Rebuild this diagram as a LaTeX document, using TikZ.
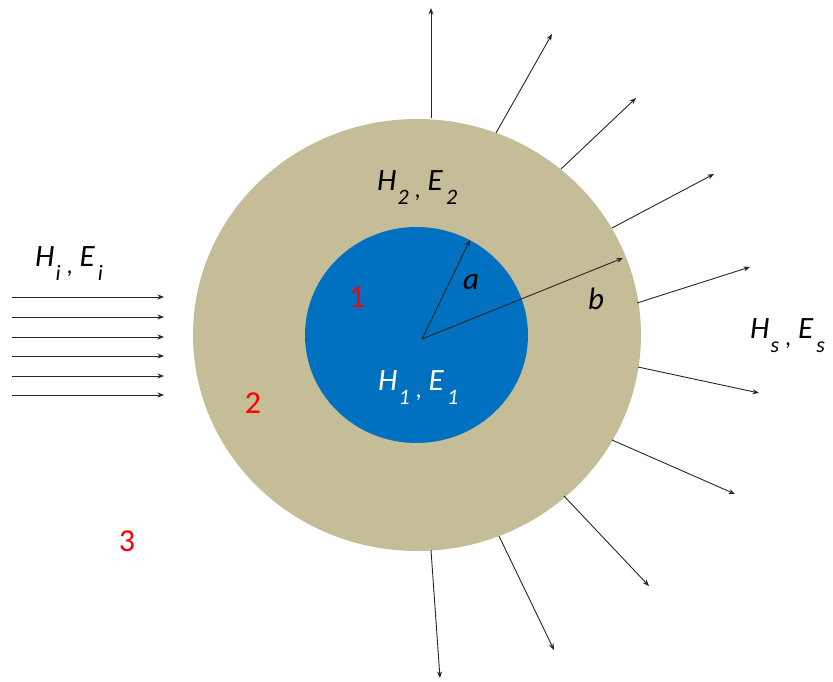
\documentclass[tikz,border=0pt]{standalone}
\usepackage{fontspec}
\setmainfont{Carlito}
\usetikzlibrary{arrows.meta}
\definecolor{tan}{HTML}{C4BD97}
\definecolor{coreblue}{HTML}{0070C0}
\newcommand\sbx[1]{\raisebox{-14pt}{\fontsize{22}{22}\selectfont\itshape #1}}
\newcommand\cmx{\raisebox{-7pt}{\fontsize{24}{24}\selectfont ,}}
\newcommand\fld[4]{\textit{#1}\kern1pt\sbx{#2}\kern6pt\cmx\kern7pt\textit{#3}\kern3pt\sbx{#4}}
\begin{document}
\begin{tikzpicture}[x=1pt,y=-1pt,
  arr/.style={draw=black!85,line width=0.9pt,-{Stealth[length=6.5pt,width=5pt]}},
  lbl/.style={inner sep=0pt,anchor=base west,font=\fontsize{31}{31}\selectfont},
  num/.style={inner sep=0pt,text=red,font=\fontsize{32}{32}\selectfont}]
\useasboundingbox (0,0) rectangle (833,682);
% shell and core
\fill[tan] (417,335) ellipse [x radius=224, y radius=216];
\fill[coreblue] (416.5,335) ellipse [x radius=111.5, y radius=108];
% labels
\node[lbl] (f2) at (377,190) {\fld{H}{2}{E}{2}};
\node[lbl,text=white] (f1) at (378,390) {\fld{H}{1}{E}{1}};
\node[lbl] (fi) at (35,266) {\fld{H}{i}{E}{i}};
\node[lbl] (fs) at (750,338) {\fld{H}{s}{E}{s}};
\node[num] (n1) at (357,297) {1};
\node[num] (n2) at (253,403) {2};
\node[num] (n3) at (127,541) {3};
\node[inner sep=0pt,font=\fontsize{31}{31}\selectfont\itshape] (la) at (471,282) {a};
\node[inner sep=0pt,font=\fontsize{31}{31}\selectfont\itshape] (lb) at (596,299) {b};
% radii
\coordinate (o) at (422,339);
\coordinate (ta) at (470,240);
\coordinate (tb) at (623,258);
\draw[arr] (o) -- (ta);
\draw[arr] (o) -- (tb);
% incident arrows
\foreach \k/\yy in {1/297,2/317,3/337,4/356,5/376,6/395}{
  \coordinate (is\k) at (12,\yy);
  \coordinate (ie\k) at (164,\yy);
  \draw[arr] (is\k) -- (ie\k);
}
% scattered arrows
\foreach \k/\ax/\ay/\bx/\by in {1/431/118/431/8, 2/496/133/552/34, 3/561/169/636/98,
  4/612/228/714/174, 5/637/303/750/267, 6/638/367/759/393, 7/612/440/735/494,
  8/564/496/649/586, 9/499/536/554/650, 10/431/550/440/678}{
  \coordinate (ss\k) at (\ax,\ay);
  \coordinate (se\k) at (\bx,\by);
  \draw[arr] (ss\k) -- (se\k);
}
\end{tikzpicture}
\end{document}
